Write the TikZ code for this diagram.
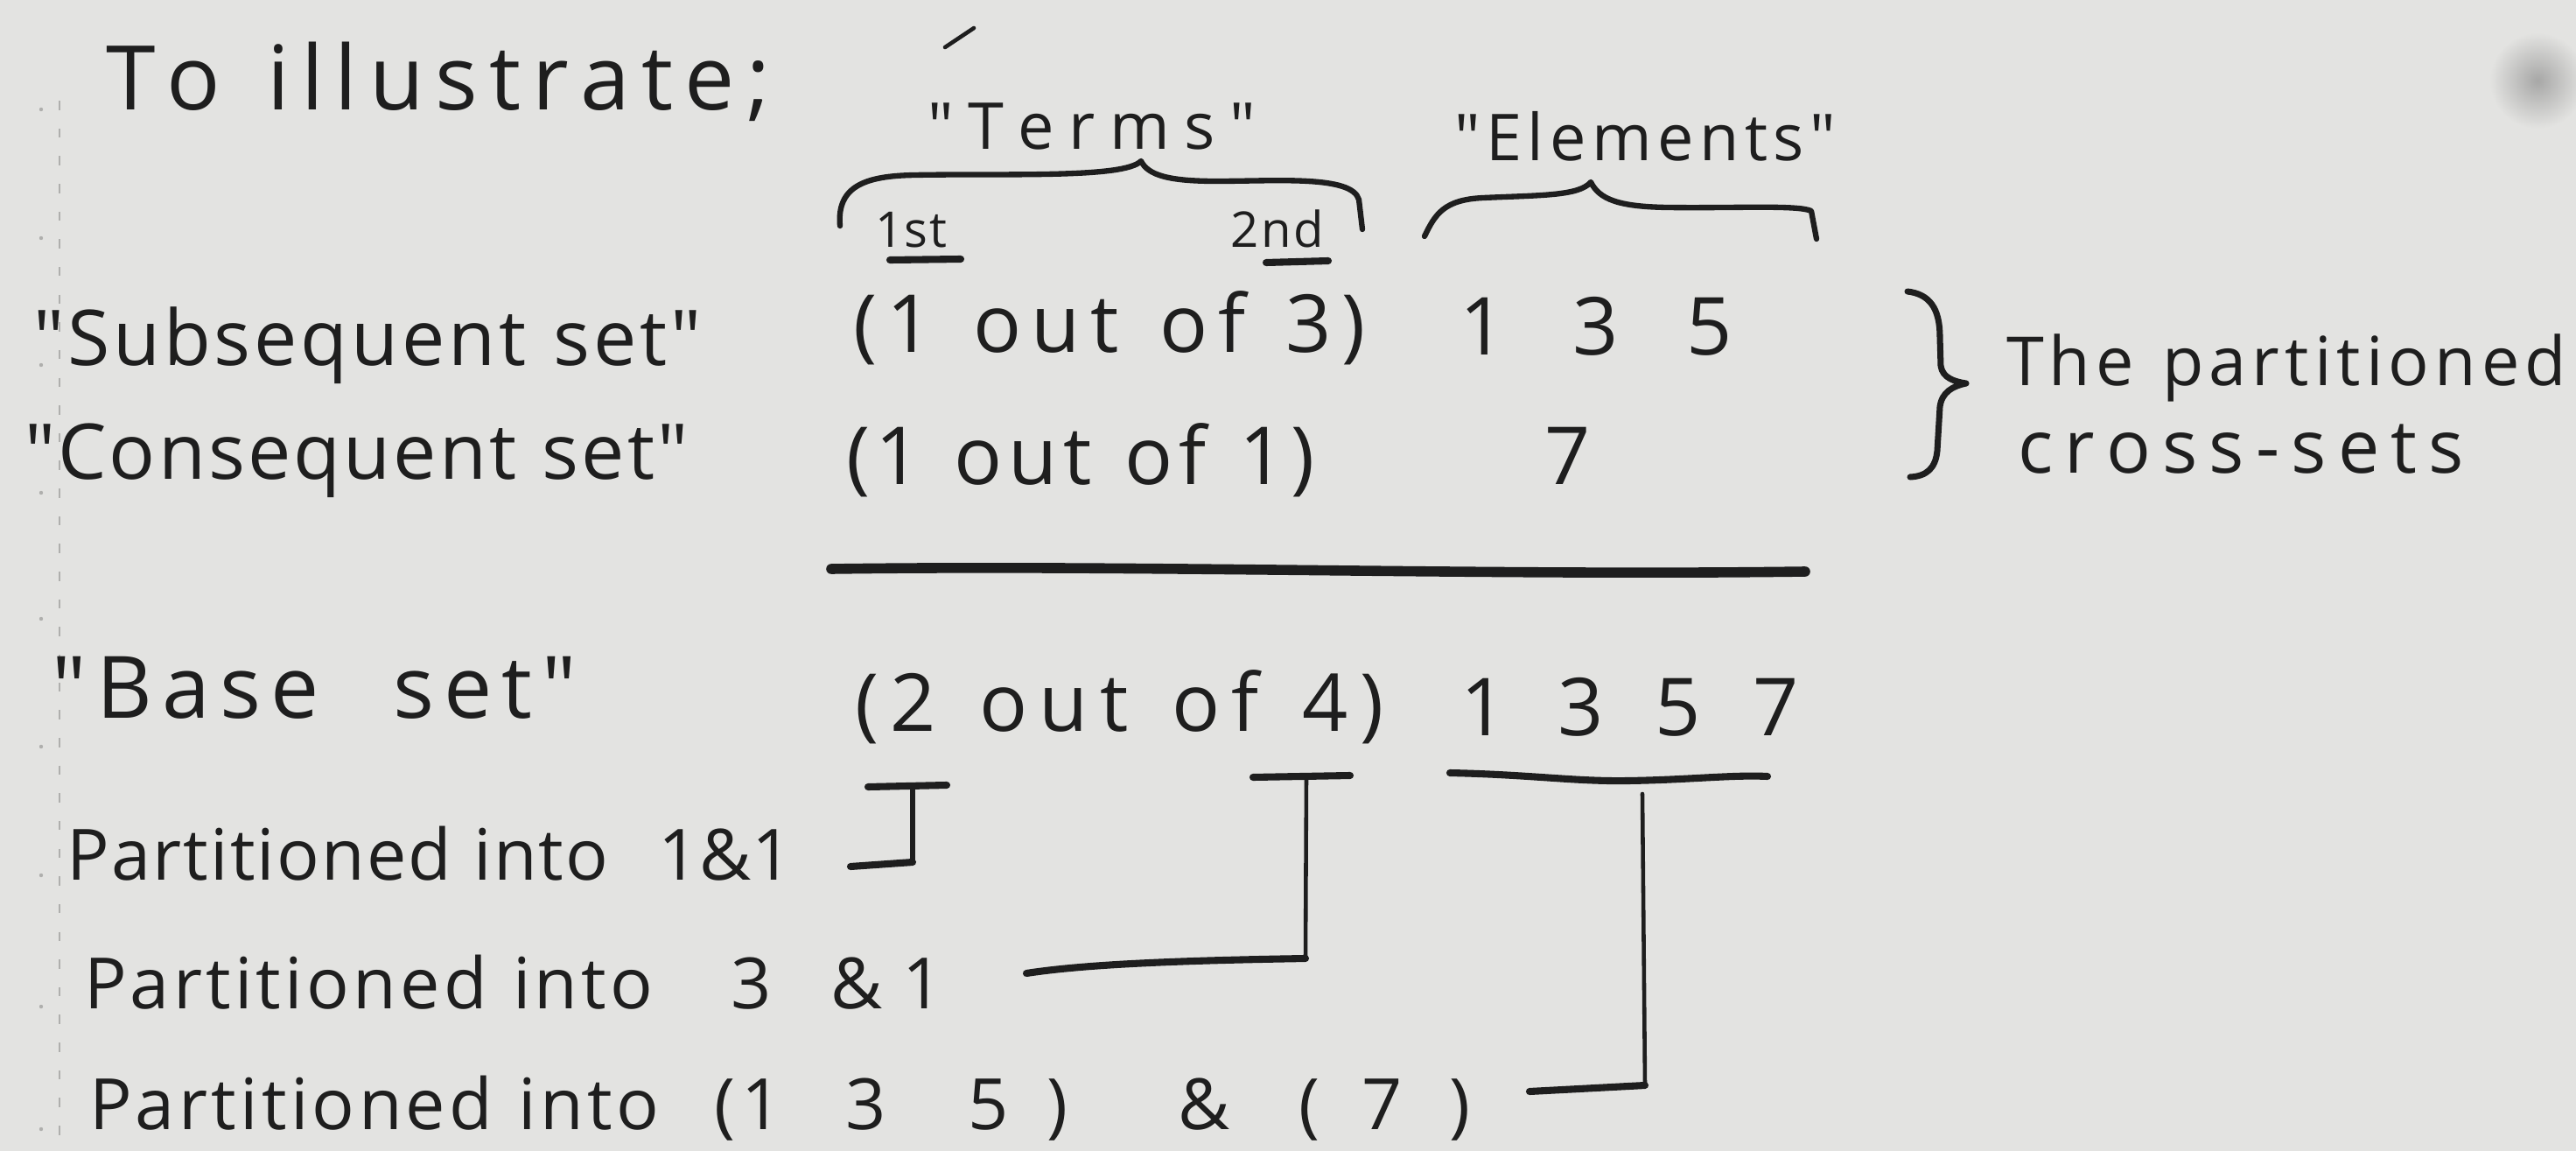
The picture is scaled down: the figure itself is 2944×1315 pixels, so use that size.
\documentclass[tikz,border=0pt]{standalone}
\usepackage{fontspec}
\newfontfamily\hand{Open Sans}
\definecolor{paper}{RGB}{227,227,225}
\definecolor{ink}{RGB}{30,30,30}
\definecolor{faint}{RGB}{175,175,173}
\makeatletter
\def\sl@first#1{#1\sl@rest}
\def\sl@rest#1{\ifx#1\relax\else\hfil#1\expandafter\sl@rest\fi}
\newcommand\spreadto[2]{\hbox to #1{\sl@first#2\relax}}
\makeatother
\newcommand\putglyph[2]{\makebox[0pt][l]{\hspace*{#1}#2}}
\tikzset{
  txt/.style={inner sep=0pt, outer sep=0pt, text=ink, anchor=base west},
  ftitle/.style={font=\hand\fontsize{29}{34}\selectfont},
  fmain/.style={font=\hand\fontsize{25}{30}\selectfont},
  fbase/.style={font=\hand\fontsize{28}{32}\selectfont},
  fnum/.style={font=\hand\fontsize{26}{30}\selectfont},
  fhead/.style={font=\hand\fontsize{21}{25}\selectfont},
  fheadb/.style={font=\hand\fontsize{22}{26}\selectfont},
  fheadc/.style={font=\hand\fontsize{24}{28}\selectfont},
  fsmall/.style={font=\hand\fontsize{16}{19}\selectfont},
  fpart/.style={font=\hand\fontsize{23}{27}\selectfont},
  bar/.style={draw=ink, line width=2.3pt, line cap=round, line join=round},
  rulebar/.style={draw=ink, line width=3.3pt, line cap=round},
  stem/.style={draw=ink, line width=1.3pt, line cap=round, line join=round},
  bracepath/.style={draw=ink, line width=1.8pt, line cap=round, line join=round},
}
\begin{document}
\begin{tikzpicture}[x=0.01cm, y=-0.01cm]
\fill[paper] (0,0) rectangle (2944,1315);
\useasboundingbox (0,0) rectangle (2944,1315);
% paper marks
\shade[inner color=gray!60!paper, outer color=paper] (2900,92) circle (55);
\draw[faint, line width=0.6pt, dash pattern=on 3pt off 6pt] (68,115) -- (68,1315);
\foreach \yy in {125,272,417,563,707,853,1000,1150,1290}
  \fill[faint] (47,\yy) circle (2.2);

% texts
\node[txt,ftitle] (ill) at (121,125) {\spreadto{7.59cm}{To~illustrate;}};
\node[txt,fhead] (terms) at (1060,170) {\spreadto{3.75cm}{"Terms"}};
\node[txt,fhead] (elem) at (1662,183) {\spreadto{4.36cm}{"Elements"}};
\node[txt,fsmall] (first) at (1000,282) {\spreadto{0.82cm}{1st}};
\node[txt,fsmall] (second) at (1406,282) {\spreadto{1.07cm}{2nd}};

\node[txt,fmain] (subs) at (38,417) {\spreadto{7.63cm}{"Subsequent~set"}};
\node[txt,fmain] (cons) at (28,547) {\spreadto{7.58cm}{"Consequent~set"}};
\node[txt,fbase] (base) at (60,820) {\spreadto{5.99cm}{"Base~~set"}};

\node[txt,fnum] (t1) at (975,402) {\spreadto{5.85cm}{(1~out~of~3)}};
\node[txt,fnum] (t2) at (967,553) {\spreadto{5.35cm}{(1~out~of~1)}};
\node[txt,fnum] (t3) at (977,835) {\spreadto{6.04cm}{(2~out~of~4)}};
\node[txt,fnum] (e1) at (1668,405) {\spreadto{3.12cm}{1~3~5}};
\node[txt,fnum] (e2) at (1765,553) {7};
\node[txt,fnum] (e3) at (1669,840) {\spreadto{3.86cm}{1~3~5~7}};

\node[txt,fheadb] (thep) at (2293,440) {\spreadto{6.40cm}{The~partitioned}};
\node[txt,fheadc] (cross) at (2306,540) {\spreadto{5.10cm}{cross-sets}};

\node[txt,fpart] (p1) at (77,1005) {\spreadto{6.18cm}{Partitioned~into}};
\node[txt,fpart] (p1b) at (752,1005) {\spreadto{1.54cm}{1\&1}};
\node[txt,fpart] (p2) at (96,1152) {\spreadto{6.50cm}{Partitioned~into}};
\node[txt,fpart] (p2b) at (835,1152) {\spreadto{2.43cm}{3~\&1}};
\node[txt,fpart] (p3) at (102,1290) {\spreadto{6.51cm}{Partitioned~into}};
\node[txt,fpart] (p3b) at (816,1290) {\putglyph{0cm}{(}\putglyph{0.32cm}{1}\putglyph{1.50cm}{3}%
  \putglyph{2.90cm}{5}\putglyph{3.80cm}{)}\putglyph{5.30cm}{\&}\putglyph{6.68cm}{(}%
  \putglyph{7.40cm}{7}\putglyph{8.40cm}{)}\hspace*{8.8cm}};

% accent mark
\coordinate (acA) at (1113,32);
\coordinate (acB) at (1080,54);
\draw[stem] (acA) -- (acB);

% brace over Terms
\coordinate (tbL) at (960,258);
\coordinate (tbM) at (1304,184);
\coordinate (tbR) at (1557,262);
\draw[bracepath] (tbL) .. controls (956,212) and (990,201) .. (1045,200)
  .. controls (1150,198) and (1285,204) .. (tbM)
  .. controls (1312,200) and (1335,207) .. (1390,207)
  .. controls (1460,207) and (1545,200) .. (1553,228) -- (tbR);

% brace over Elements
\coordinate (ebL) at (1628,270);
\coordinate (ebM) at (1818,208);
\coordinate (ebR) at (2076,273);
\draw[bracepath] (ebL) .. controls (1640,245) and (1650,228) .. (1695,226)
  .. controls (1760,223) and (1805,224) .. (ebM)
  .. controls (1828,228) and (1850,236) .. (1905,237)
  .. controls (1985,238) and (2055,234) .. (2070,241) -- (ebR);

% 1st / 2nd underlines
\coordinate (u1a) at (1017,297); \coordinate (u1b) at (1098,296);
\coordinate (u2a) at (1447,300); \coordinate (u2b) at (1518,298);
\draw[bar] (u1a) -- (u1b);
\draw[bar] (u2a) -- (u2b);

% right brace
\coordinate (rbT) at (2180,333);
\coordinate (rbM) at (2247,438);
\coordinate (rbB) at (2183,545);
\draw[bracepath, line width=2pt] (rbT) .. controls (2205,336) and (2217,352) .. (2217,385)
  -- (2218,418) .. controls (2220,432) and (2234,436) .. (rbM)
  .. controls (2232,441) and (2219,448) .. (2217,465)
  -- (2214,515) .. controls (2212,535) and (2202,544) .. (rbB);

% main rule
\coordinate (ruL) at (950,650); \coordinate (ruR) at (2063,653);
\draw[rulebar] (ruL) .. controls (1300,645) and (1700,658) .. (ruR);

% bracket under "2"
\coordinate (j1a) at (992,899); \coordinate (j1b) at (1082,897);
\coordinate (j1c) at (1043,898); \coordinate (j1d) at (1043,985);
\coordinate (j1e) at (972,990);
\draw[bar] (j1a) -- (j1b);
\draw[stem, line width=1.6pt] (j1c) -- (j1d);
\draw[bar] (j1d) -- (j1e);

% bracket under "4"
\coordinate (j2a) at (1432,888); \coordinate (j2b) at (1543,886);
\coordinate (j2c) at (1493,887); \coordinate (j2d) at (1492,1095);
\coordinate (j2e) at (1173,1112);
\draw[bar] (j2a) -- (j2b);
\draw[stem] (j2c) -- (j2d);
\draw[bar] (j2d) .. controls (1380,1097) and (1250,1100) .. (j2e);

% bracket under "1 3 5 7"
\coordinate (j3a) at (1657,883); \coordinate (j3b) at (2020,887);
\coordinate (j3c) at (1877,907); \coordinate (j3d) at (1880,1240);
\coordinate (j3e) at (1748,1247);
\draw[bar] (j3a) .. controls (1750,885) and (1800,893) .. (1860,892)
  .. controls (1930,891) and (1980,885) .. (j3b);
\draw[stem] (j3c) -- (j3d);
\draw[bar] (j3d) -- (j3e);
\end{tikzpicture}
\end{document}
